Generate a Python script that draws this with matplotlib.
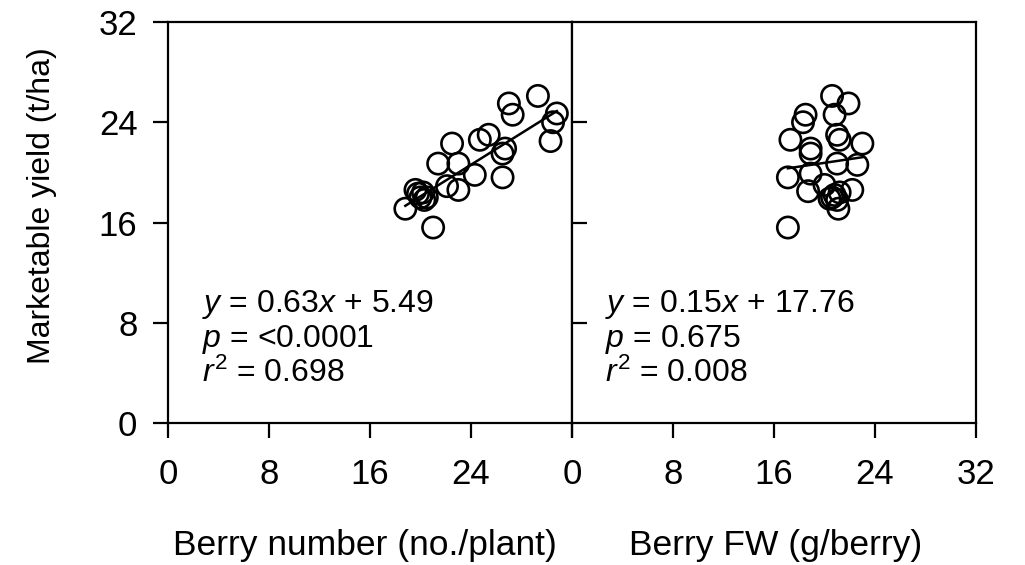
import matplotlib
matplotlib.use("Agg")
import matplotlib.pyplot as plt
import numpy as np

plt.rcParams['font.family'] = ['Liberation Sans', 'DejaVu Sans']
plt.rcParams['mathtext.fontset'] = 'custom'
plt.rcParams['mathtext.rm'] = 'Liberation Sans'
plt.rcParams['mathtext.it'] = 'Liberation Sans:italic'

# Left panel: berry number vs yield
berry_number = [29.3, 27.0, 27.3, 30.8, 30.5, 30.3, 22.5, 25.4, 24.7, 26.7, 26.5,
                21.4, 23.0, 24.3, 26.5, 22.1, 23.0, 19.6, 20.2, 20.0, 20.5, 18.8,
                21.0, 19.8, 20.3]
yield_left = [26.1, 25.5, 24.6, 24.7, 24.0, 22.5, 22.3, 23.0, 22.6, 21.9, 21.5,
              20.7, 20.7, 19.8, 19.6, 18.9, 18.6, 18.6, 18.4, 18.0, 18.0, 17.1,
              15.6, 18.3, 17.8]
# Right panel: berry FW vs yield
berry_fw = [20.6, 21.9, 18.5, 18.3, 20.8, 21.0, 21.2, 17.3, 23.0, 18.9, 18.9,
            21.0, 22.6, 17.1, 18.9, 18.7, 20.0, 22.2, 20.4, 20.8, 21.2, 21.1,
            17.1, 20.6, 21.0]
yield_right = [26.1, 25.5, 24.6, 24.0, 24.6, 23.0, 22.6, 22.6, 22.3, 21.9, 21.5,
               20.7, 20.6, 19.6, 19.9, 18.5, 19.0, 18.6, 17.9, 18.2, 18.4, 17.1,
               15.6, 18.0, 17.8]

fit_left = (0.63, 5.49)
fit_right = (0.15, 17.76)
text_left = ["$y$ = 0.63$x$ + 5.49", "$p$ = <0.0001", "$r^2$ = 0.698"]
text_right = ["$y$ = 0.15$x$ + 17.76", "$p$ = 0.675", "$r^2$ = 0.008"]

xticks_left = [0, 8, 16, 24, 32]
xticklabels_left = ["0", "8", "16", "24", ""]
xticks_right = [0, 8, 16, 24, 32]
yticks = [0, 8, 16, 24, 32]

fig = plt.figure(figsize=(10.25, 5.65), dpi=100)
axL = fig.add_axes([168/1025, 1-423/565, 404/1025, 401/565])
axR = fig.add_axes([572/1025, 1-423/565, 404/1025, 401/565])

TICK_FS = 25
ANN_FS = 23
XL_FS = 25.5
YL_FS = 23
baselines = [0.277, 0.190, 0.102]
for ax, xs, ys, fit, txt, x0 in [(axL, berry_number, yield_left, fit_left, text_left, 0.085),
                                 (axR, berry_fw, yield_right, fit_right, text_right, 0.082)]:
    xs = np.array(xs); ys = np.array(ys)
    xx = np.array([xs.min(), xs.max()])
    ax.plot(xx, fit[0]*xx + fit[1], color='black', lw=1.8, zorder=2)
    ax.scatter(xs, ys, s=235, facecolors='none', edgecolors='black', linewidths=1.9, zorder=3)
    ax.set_xlim(0, 32)
    ax.set_ylim(0, 32)
    for sp in ax.spines.values():
        sp.set_linewidth(1.6)
    for t, b in zip(txt, baselines):
        ax.text(x0, b, t, transform=ax.transAxes, fontsize=ANN_FS,
                va='baseline', ha='left')

axL.set_xticks(xticks_left)
axL.set_xticklabels(xticklabels_left)
axL.set_yticks(yticks)
axL.tick_params(axis='both', direction='out', length=11, width=1.6, labelsize=TICK_FS)
axL.tick_params(axis='x', pad=14)
axL.tick_params(axis='y', pad=11)

axR.set_xticks(xticks_right)
axR.set_yticks(yticks[1:-1])
axR.set_yticklabels([])
axR.tick_params(axis='y', direction='in', length=11, width=1.6)
axR.tick_params(axis='x', direction='out', length=11, width=1.6, labelsize=TICK_FS, pad=14)

fig.text(365/1025, 1-555/565, "Berry number (no./plant)", fontsize=XL_FS,
         ha='center', va='baseline')
fig.text(776/1025, 1-555/565, "Berry FW (g/berry)", fontsize=XL_FS,
         ha='center', va='baseline')
fig.text(42/1025, 1-206/565, "Marketable yield (t/ha)", fontsize=YL_FS,
         ha='center', va='center', rotation=90)

fig.savefig("out.png", dpi=100)
